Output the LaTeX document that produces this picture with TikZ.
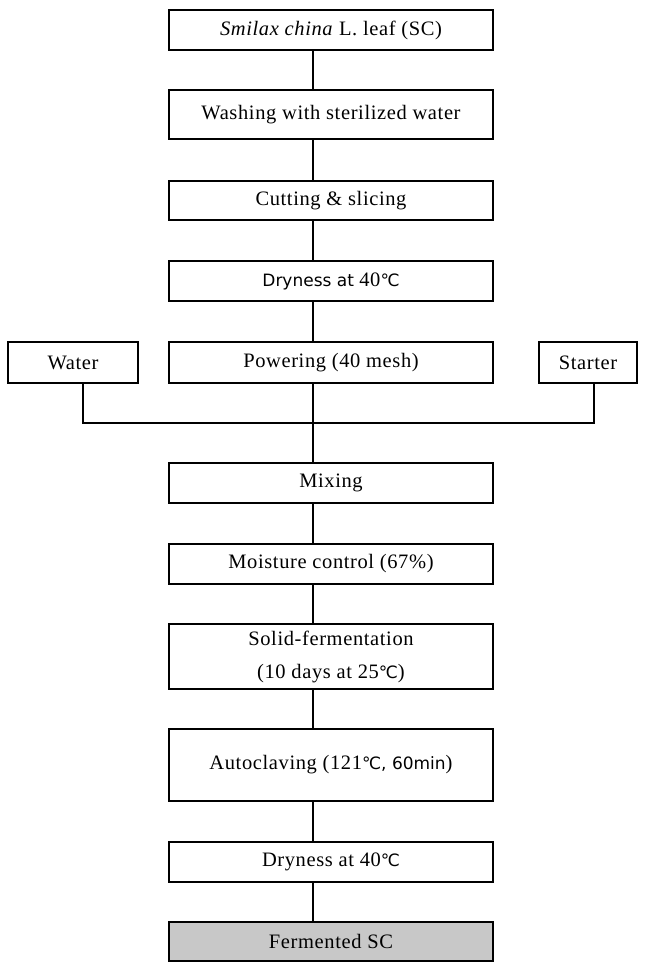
\documentclass[tikz,border=0pt]{standalone}
\usepackage{fontspec}
\setmainfont[LetterSpace=3]{Liberation Serif}
\newfontfamily\sansf{DejaVu Sans}
\definecolor{boxgray}{RGB}{200,200,200}
\begin{document}
\begin{tikzpicture}[x=1pt,y=-1pt,
  box/.style={draw, line width=2pt, minimum width=324pt, inner sep=0pt, align=center,
    font=\fontsize{20.5}{33}\selectfont},
  sidebox/.style={box, minimum width=0pt},
  conn/.style={line width=2pt}]
\useasboundingbox (0,0) rectangle (645,963);
\coordinate (ax) at (313,0);
\node[box, minimum height=40pt] (b1) at (331,30) {\textit{Smilax china} L. leaf (SC)};
\node[box, minimum height=49pt] (b2) at (331,114.5) {Washing with sterilized water};
\node[box, minimum height=39pt] (b3) at (331,200.5) {Cutting \& slicing};
\node[box, minimum height=40pt] (b4) at (331,281) {{\sansf\fontsize{17}{20}\selectfont Dryness at }40{\sansf\fontsize{17}{20}\selectfont ℃}};
\node[box, minimum height=41pt] (b5) at (331,362.5) {Powering (40 mesh)};
\node[sidebox, minimum width=130pt, minimum height=41pt] (water) at (73,362.5) {Water};
\node[sidebox, minimum width=98pt, minimum height=41pt] (starter) at (588,362.5) {Starter};
\node[box, minimum height=40pt] (b6) at (331,483) {Mixing};
\node[box, minimum height=40pt] (b7) at (331,564) {Moisture control (67\%)};
\node[box, minimum height=65pt] (b8) at (331,656.5) {Solid-fermentation\\(10 days at 25{\sansf\fontsize{17}{20}\selectfont ℃})};
\node[box, minimum height=72pt] (b9) at (331,765) {Autoclaving (121{\sansf\fontsize{17}{20}\selectfont ℃, 60min})};
\node[box, minimum height=40pt] (b10) at (331,862) {Dryness at 40{\sansf\fontsize{17}{20}\selectfont ℃}};
\node[box, fill=boxgray, minimum height=39pt] (b11) at (331,941.5) {Fermented SC};
\coordinate (join) at (313,423);
\draw[conn] (b1.south -| ax) -- (b2.north -| ax);
\draw[conn] (b2.south -| ax) -- (b3.north -| ax);
\draw[conn] (b3.south -| ax) -- (b4.north -| ax);
\draw[conn] (b4.south -| ax) -- (b5.north -| ax);
\draw[conn] (b5.south -| ax) -- (b6.north -| ax);
\draw[conn] (water.south -| 83,0) |- (join);
\draw[conn] (starter.south -| 594,0) |- (join);
\draw[conn] (b6.south -| ax) -- (b7.north -| ax);
\draw[conn] (b7.south -| ax) -- (b8.north -| ax);
\draw[conn] (b8.south -| ax) -- (b9.north -| ax);
\draw[conn] (b9.south -| ax) -- (b10.north -| ax);
\draw[conn] (b10.south -| ax) -- (b11.north -| ax);
\end{tikzpicture}
\end{document}
